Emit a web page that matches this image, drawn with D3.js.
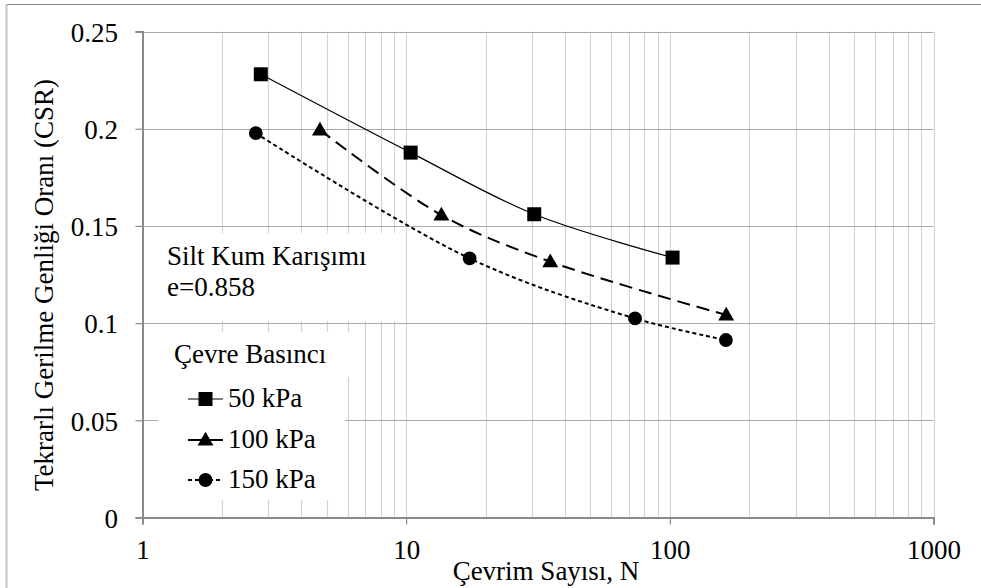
<!DOCTYPE html>
<html>
<head>
<meta charset="utf-8">
<script src="https://cdn.jsdelivr.net/npm/d3@7"></script>
<style>
  html, body { margin: 0; padding: 0; background: #fff; }
  svg { display: block; }
</style>
</head>
<body>
<svg id="chart" width="981" height="588"></svg>
<script>
// ---- data ----
const seriesNames = ["50 kPa", "100 kPa", "150 kPa"];
const cycles50  = [2.81, 10.4, 30.6, 102.4];
const csr50     = [0.228, 0.1877, 0.156, 0.1337];
const cycles100 = [4.71, 13.6, 35.2, 163.6];
const csr100    = [0.1994, 0.1556, 0.1316, 0.1042];
const cycles150 = [2.69, 17.4, 73.8, 163.2];
const csr150    = [0.1977, 0.1333, 0.1024, 0.0913];
const xTicks = [1, 10, 100, 1000];
const yTicks = [0, 0.05, 0.1, 0.15, 0.2, 0.25];
const xTitle = "Çevrim Sayısı, N";
const yTitle = "Tekrarlı Gerilme Genliği Oranı (CSR)";
const noteLines = ["Silt Kum Karışımı", "e=0.858"];
const legendTitle = "Çevre Basıncı";

const FONT = "Liberation Serif";

const series = [
  { name: seriesNames[0], x: cycles50,  y: csr50,  symbol: d3.symbolSquare,   size: 196, dash: null,   width: 1.2 },
  { name: seriesNames[1], x: cycles100, y: csr100, symbol: d3.symbolTriangle, size: 110, dash: "13,7", width: 2 },
  { name: seriesNames[2], x: cycles150, y: csr150, symbol: d3.symbolCircle,   size: 150, dash: "4,3",  width: 2 }
];

const svg = d3.select("#chart");
const L = 142.5, R = 933.5, T = 31.5, B = 517.5;
const x = d3.scaleLog().domain([1, 1000]).range([L, R]);
const y = d3.scaleLinear().domain([0, 0.25]).range([B, T]);
const FS = 27;

function txt(sel) { return sel.style("font-family", FONT).style("font-size", FS + "px").attr("fill", "#000"); }

// outer border (clipped chart area)
svg.append("line").attr("x1", 6.5).attr("x2", 981).attr("y1", 4.5).attr("y2", 4.5).attr("stroke", "#8a8a8a").attr("stroke-width", 1);
svg.append("line").attr("x1", 6.5).attr("x2", 6.5).attr("y1", 4.5).attr("y2", 588).attr("stroke", "#c4c4c4").attr("stroke-width", 2);

// vertical grid (all 1..9 per decade)
const vGrid = [];
for (let d = 1; d < 1000; d *= 10) for (let k = 1; k <= 9; k++) vGrid.push(d * k);
vGrid.push(1000);
svg.append("g").selectAll("line").data(vGrid.filter(v => v > 1)).join("line")
  .attr("x1", d => Math.round(x(d)) + 0.5).attr("x2", d => Math.round(x(d)) + 0.5)
  .attr("y1", T).attr("y2", B)
  .attr("stroke", "#d4d4d4").attr("stroke-width", 1.2);

// horizontal grid
svg.append("g").selectAll("line").data(yTicks.filter(v => v > 0)).join("line")
  .attr("x1", L).attr("x2", R)
  .attr("y1", d => Math.round(y(d)) + 0.5).attr("y2", d => Math.round(y(d)) + 0.5)
  .attr("stroke", "#a9a9a9").attr("stroke-width", 1.2);

// axes
const xAxis = svg.append("g").attr("transform", `translate(0,${B})`)
  .call(d3.axisBottom(x).tickValues(xTicks).tickFormat(d3.format("d")).tickSize(7).tickPadding(15));
const yAxis = svg.append("g").attr("transform", `translate(${L},0)`)
  .call(d3.axisLeft(y).tickValues(yTicks).tickFormat(d => d3.format("")(d)).tickSize(7).tickPadding(17.5));
[xAxis, yAxis].forEach(a => {
  a.select(".domain").attr("stroke", "#8a8a8a").attr("stroke-width", 2);
  a.selectAll(".tick line").attr("stroke", "#8a8a8a").attr("stroke-width", 1.2);
  txt(a.selectAll(".tick text"));
});
yAxis.selectAll(".tick text").attr("dy", "0.36em");

// note text box
svg.append("rect").attr("x", 156).attr("y", 233).attr("width", 244).attr("height", 88).attr("fill", "#fff");
txt(svg.append("text").attr("x", 167).attr("y", 265)).text(noteLines[0]);
txt(svg.append("text").attr("x", 167).attr("y", 296)).text(noteLines[1]);

// legend boxes
svg.append("rect").attr("x", 158).attr("y", 332).attr("width", 204).attr("height", 45).attr("fill", "#fff");
svg.append("rect").attr("x", 158).attr("y", 377).attr("width", 187).attr("height", 123).attr("fill", "#fff");
txt(svg.append("text").attr("x", 174).attr("y", 363)).text(legendTitle);

// series lines
const line = d3.line().curve(d3.curveCatmullRom.alpha(0.5));
series.forEach(s => {
  const pts = s.x.map((v, i) => [x(v), y(s.y[i])]);
  svg.append("path").attr("d", line(pts)).attr("fill", "none")
    .attr("stroke", "#000").attr("stroke-width", s.width)
    .attr("stroke-dasharray", s.dash);
  svg.append("g").selectAll("path").data(pts).join("path")
    .attr("transform", p => `translate(${p[0]},${p[1] + (s.symbol === d3.symbolTriangle ? 1 : 0)})`)
    .attr("d", d3.symbol().type(s.symbol).size(s.size)).attr("fill", "#000");
});

// legend entries
const legY = [399, 440, 480];
series.forEach((s, i) => {
  svg.append("line").attr("x1", 188).attr("x2", 223).attr("y1", legY[i]).attr("y2", legY[i])
    .attr("stroke", "#000").attr("stroke-width", s.width)
    .attr("stroke-dasharray", i === 2 ? "4,3" : null);
  svg.append("path").attr("transform", `translate(205.5,${legY[i] + (i === 1 ? 1 : 0)})`)
    .attr("d", d3.symbol().type(s.symbol).size(s.size)).attr("fill", "#000");
  txt(svg.append("text").attr("x", 228).attr("y", legY[i] + 8)).text(s.name);
});

// axis titles
txt(svg.append("text").attr("x", (L + R) / 2 + 8).attr("y", 580).attr("text-anchor", "middle")).text(xTitle);
txt(svg.append("text").attr("transform", `translate(53,285) rotate(-90)`).attr("text-anchor", "middle")).text(yTitle);
</script>
</body>
</html>
